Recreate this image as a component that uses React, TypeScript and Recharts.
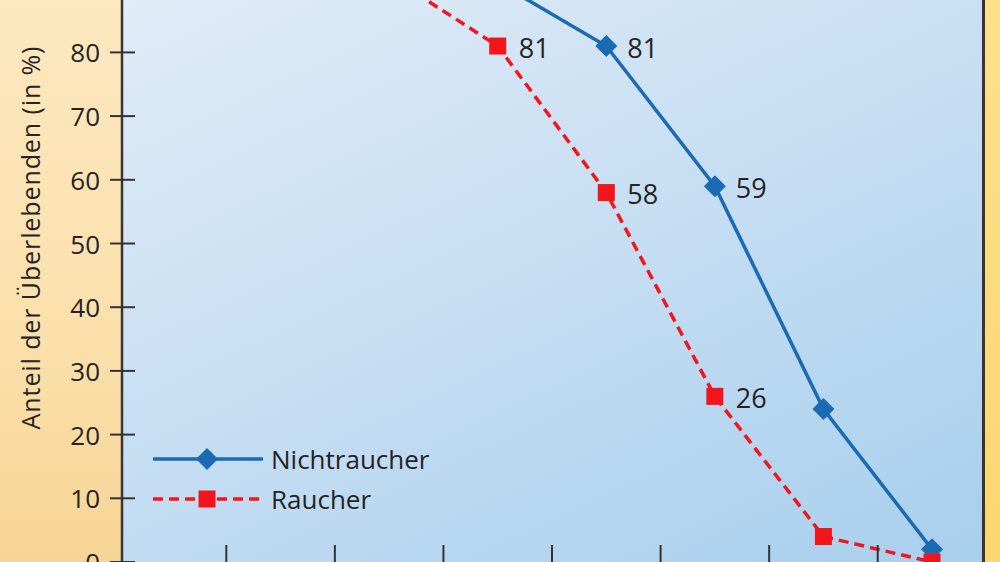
import { LineChart, Line, XAxis, YAxis, Legend, LabelList, Label } from "recharts";

// Überlebensanteil nach Alter (in %)
const ages = ["30", "40", "50", "60", "70", "80", "90", "100"];
const nichtraucher = [100, 99, 97, 91, 81, 59, 24, 2];
const raucher = [100, 98, 92, 81, 58, 26, 4, 0];
// only these points carry a value label
const labeledAges = ["60", "70", "80"];
const yTicks = [0, 10, 20, 30, 40, 50, 60, 70, 80, 90, 100];

const data = ages.map((age, i) => ({
  age,
  nichtraucher: nichtraucher[i],
  raucher: raucher[i],
}));

const BLUE = "#1a6ab4";
const RED = "#f3141c";
const INK = "#252325";
const FONT = "'Open Sans', 'Noto Sans', sans-serif";
const HALF_STEP = 54.3; // half the distance between two age groups

function Diamond({ cx, cy, r = 11, fill }: any) {
  return (
    <polygon
      points={`${cx},${cy - r} ${cx + r},${cy} ${cx},${cy + r} ${cx - r},${cy}`}
      fill={fill}
    />
  );
}

function Square({ cx, cy, s = 17, fill }: any) {
  return <rect x={cx - s / 2} y={cy - s / 2} width={s} height={s} fill={fill} />;
}

const YTick = ({ x, y, payload }: any) => (
  <g>
    <line x1={x - 12} x2={x + 13} y1={y} y2={y} stroke="#333" strokeWidth={2} />
    <text
      x={x - 22}
      y={y}
      textAnchor="end"
      dominantBaseline="central"
      fontSize={26}
      fill={INK}
      fontFamily={FONT}
    >
      {payload.value}
    </text>
  </g>
);

// upward mark between the age groups (the age labels are cropped away)
const XTick = ({ x, y, payload }: any) =>
  payload.value === ages[ages.length - 1] ? null : (
    <path d={`M${x + HALF_STEP},${y - 17}V${y}`} stroke="#333" strokeWidth={2} fill="none" />
  );

const valueLabel = ({ x, y, value, index }: any) =>
  labeledAges.includes(ages[index]) ? (
    <text
      x={x + 21}
      y={y + 1}
      dominantBaseline="central"
      fontSize={27}
      fill={INK}
      fontFamily={FONT}
    >
      {value}
    </text>
  ) : null;

const renderLegend = ({ payload }: any) => (
  <div style={{ fontFamily: FONT }}>
    {(payload || []).map((item: any) => {
      const isRaucher = item.dataKey === "raucher";
      return (
        <div key={item.dataKey} style={{ display: "flex", alignItems: "center", height: 40 }}>
          <svg width={110} height={26}>
            <line
              x1={0}
              x2={110}
              y1={13}
              y2={13}
              stroke={item.color}
              strokeWidth={3.5}
              strokeDasharray={isRaucher ? "10 6" : undefined}
            />
            {isRaucher ? (
              <Square cx={54} cy={13} fill={RED} />
            ) : (
              <Diamond cx={54} cy={13} fill={BLUE} />
            )}
          </svg>
          <span style={{ marginLeft: 8, fontSize: 26, color: INK, lineHeight: "26px" }}>
            {item.value}
          </span>
        </div>
      );
    })}
  </div>
);

export default function App() {
  return (
    <div style={{ position: "relative", width: 1000, height: 562, overflow: "hidden" }}>
      <style>{"body{margin:0}"}</style>
      {/* panels behind the chart */}
      <div
        style={{
          position: "absolute",
          left: 0,
          top: 0,
          width: 121,
          height: 562,
          background: "linear-gradient(180deg, #fde8bf 0%, #fbe0ab 60%, #f7d595 100%)",
        }}
      />
      <div
        style={{
          position: "absolute",
          left: 121,
          top: 0,
          width: 862,
          height: 562,
          background: "linear-gradient(155deg, #e0ecf8 0%, #c8dff3 45%, #a8cfed 100%)",
        }}
      />
      <div
        style={{
          position: "absolute",
          left: 982,
          top: 0,
          width: 3,
          height: 562,
          background: "#3a3530",
        }}
      />
      <div
        style={{
          position: "absolute",
          left: 985,
          top: 0,
          width: 15,
          height: 562,
          background: "linear-gradient(180deg, #fde08c 0%, #fbd672 100%)",
        }}
      />
      <div style={{ position: "absolute", left: 0, top: 0 }}>
        <LineChart
          width={1000}
          height={562}
          data={data}
          margin={{ top: -75, right: 16, bottom: -30, left: 0 }}
        >
          <XAxis
            dataKey="age"
            height={30}
            padding={{ left: 50, right: 52 }}
            axisLine={false}
            tickLine={false}
            tickSize={0}
            tickMargin={0}
            interval={0}
            tick={<XTick />}
          />
          <YAxis
            width={122}
            domain={[0, 100]}
            ticks={yTicks}
            interval={0}
            tickLine={false}
            tickSize={0}
            tickMargin={0}
            axisLine={{ stroke: "#3a3530", strokeWidth: 2.5 }}
            tick={<YTick />}
          >
            <Label
              value="Anteil der Überlebenden (in %)"
              content={({ viewBox, value }: any) => (
                <text
                  transform={`translate(${viewBox.x + 30}, ${viewBox.y + viewBox.height / 2 - 6}) rotate(-90)`}
                  textAnchor="middle"
                  dominantBaseline="central"
                  fontSize={25}
                  letterSpacing={0.9}
                  fill={INK}
                  fontFamily={FONT}
                >
                  {value}
                </text>
              )}
            />
          </YAxis>
          <Legend
            layout="vertical"
            align="center"
            verticalAlign="middle"
            wrapperStyle={{ left: 153, top: 439, width: "auto" }}
            content={renderLegend}
          />
          <Line
            name="Nichtraucher"
            dataKey="nichtraucher"
            type="linear"
            stroke={BLUE}
            strokeWidth={3.5}
            dot={(p: any) => <Diamond key={`n${p.index}`} cx={p.cx} cy={p.cy} fill={BLUE} />}
            isAnimationActive={false}
          >
            <LabelList dataKey="nichtraucher" content={valueLabel} />
          </Line>
          <Line
            name="Raucher"
            dataKey="raucher"
            type="linear"
            stroke={RED}
            strokeWidth={3.5}
            strokeDasharray="10 6"
            dot={(p: any) => <Square key={`r${p.index}`} cx={p.cx} cy={p.cy} fill={RED} />}
            isAnimationActive={false}
          >
            <LabelList dataKey="raucher" content={valueLabel} />
          </Line>
        </LineChart>
      </div>
    </div>
  );
}
